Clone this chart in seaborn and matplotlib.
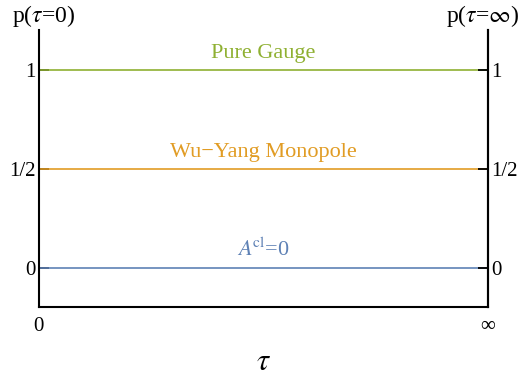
import matplotlib
matplotlib.use("Agg")
import matplotlib.pyplot as plt
import seaborn as sns
import pandas as pd

# data
tau = [0, 1]                      # 0 and infinity
p_pure_gauge = [1.0, 1.0]
p_wu_yang = [0.5, 0.5]
p_zero = [0.0, 0.0]
series_names = ["Pure Gauge", "Wu\u2212Yang Monopole", r"$A^{\!\mathrm{cl}}$=0"]
y_ticks = [0, 0.5, 1]
y_ticklabels = ["0", "1/2", "1"]
x_ticks = [0, 1]
x_ticklabels = ["0", "\u221e"]

colors = ["#8FB032", "#E19C24", "#5E81B5"]

sns.set_theme(style="white")
plt.rcParams["font.family"] = ["Liberation Serif", "DejaVu Serif"]
plt.rcParams["mathtext.fontset"] = "stix"

df = pd.DataFrame({
    "tau": tau * 3,
    "p": p_pure_gauge + p_wu_yang + p_zero,
    "series": [series_names[0]] * 2 + [series_names[1]] * 2 + [series_names[2]] * 2,
})

W, H = 523, 376
fig = plt.figure(figsize=(5.23, 3.76), dpi=100)
ax = fig.add_axes([38.5 / W, 1 - 307 / H, (488 - 38.5) / W, (307 - 30) / H])
sns.lineplot(data=df, x="tau", y="p", hue="series", palette=colors, ax=ax,
             legend=False, linewidth=1.2, zorder=1)

ax.set_xlim(0, 1)
ax.set_ylim(-0.197, 1.202)
for s in ["left", "right", "bottom"]:
    ax.spines[s].set_visible(True)
    ax.spines[s].set_color("black")
    ax.spines[s].set_linewidth(1.5)
ax.spines["top"].set_visible(False)

ax.set_yticks(y_ticks)
ax.set_yticklabels(y_ticklabels)
ax.tick_params(axis="y", direction="in", length=7, width=1.3, color="black",
               left=True, labelsize=15, pad=2, labelcolor="black")
ax.set_xticks(x_ticks)
ax.set_xticklabels(x_ticklabels)
ax.tick_params(axis="x", length=0, labelsize=15, pad=7, labelcolor="black")
ax.set_xlabel(r"$\tau$", fontsize=22, labelpad=9, color="black")
ax.set_ylabel("")

ax2 = ax.twinx()
ax2.set_ylim(ax.get_ylim())
ax2.set_yticks(y_ticks)
ax2.set_yticklabels(y_ticklabels)
ax2.tick_params(axis="y", direction="in", length=7, width=1.3, color="black",
                right=True, labelsize=15, pad=2, labelcolor="black")
for s in ["left", "top", "bottom"]:
    ax2.spines[s].set_visible(False)
ax2.spines["right"].set_linewidth(1.5)
ax2.spines["right"].set_color("black")

# series labels
label_y = [p_pure_gauge[0], p_wu_yang[0], p_zero[0]]
for name, yv, c in zip(series_names, label_y, colors):
    ax.text(0.5, yv + 0.06, name, color=c, fontsize=16, ha="center", va="baseline",
            transform=ax.get_yaxis_transform())

# axis titles at top
fig.text(43.5 / W, 1 - 16 / H, r"p($\tau$=0)", ha="center", va="center",
         fontsize=17, color="black")
fig.text(482.5 / W, 1 - 16 / H, r"p($\tau$=$\infty$)", ha="center", va="center",
         fontsize=17, color="black")

fig.savefig("out.png", dpi=100)
